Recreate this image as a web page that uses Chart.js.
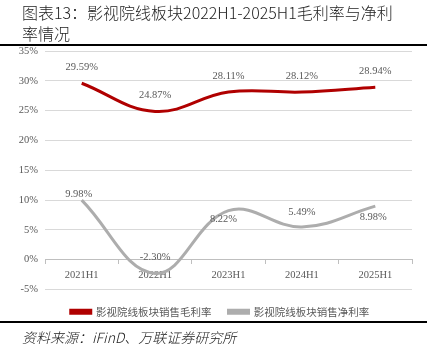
<!DOCTYPE html>
<html>
<head>
<meta charset="utf-8">
<script src="https://cdn.jsdelivr.net/npm/chart.js@4.4.1/dist/chart.umd.min.js"></script>
<style>
  html, body { margin: 0; padding: 0; background: #fff; }
  #wrap { position: relative; width: 430px; height: 351px; overflow: hidden; }
  #title { position: absolute; left: 22px; top: 2px; font: 300 16px/21px "Noto Sans CJK SC", sans-serif; color: #222; white-space: nowrap; }
  #rule1 { position: absolute; left: 0; top: 44px; width: 427px; height: 2px; background: #000; }
  #rule2 { position: absolute; left: 0; top: 321px; width: 427px; height: 2px; background: #000; }
  #source { position: absolute; left: 22px; top: 328px; font: italic 300 14px/18px "Noto Sans CJK SC", sans-serif; color: #222; white-space: nowrap; }
  canvas { position: absolute; left: 0; top: 0; }
</style>
</head>
<body>
<div id="wrap">
  <canvas id="c" width="430" height="351"></canvas>
  <div id="title">图表13：影视院线板块2022H1-2025H1毛利率与净利<br>率情况</div>
  <div id="rule1"></div>
  <div id="rule2"></div>
  <div id="source">资料来源：iFinD、万联证券研究所</div>
</div>
<script>
const categories = ["2021H1", "2022H1", "2023H1", "2024H1", "2025H1"];
const grossMargin = [29.59, 24.87, 28.11, 28.12, 28.94];
const netMargin = [9.98, -2.30, 8.22, 5.49, 8.98];
const seriesNames = ["影视院线板块销售毛利率", "影视院线板块销售净利率"];
const yTicks = { min: -5, max: 35, step: 5 };

// label offsets (style only): [dx, dy] relative to point
const labelOffsets = [
  [[0, -16], [0, -16], [0, -16], [0, -16], [0, -16]],
  [[-3, -6], [0, -16], [-5, 9], [0, -15], [-2, 11]]
];

const tickFont = { family: "Liberation Serif", size: 10.5 };
const textColor = "#595959";

const labelPlugin = {
  id: "pointLabels",
  afterDatasetsDraw(chart) {
    const ctx = chart.ctx;
    ctx.save();
    ctx.font = "10.5px 'Liberation Serif'";
    ctx.fillStyle = textColor;
    ctx.textAlign = "center";
    ctx.textBaseline = "middle";
    chart.data.datasets.forEach((ds, di) => {
      const meta = chart.getDatasetMeta(di);
      meta.data.forEach((pt, i) => {
        const off = labelOffsets[di][i];
        ctx.fillText(ds.data[i].toFixed(2) + "%", pt.x + off[0], pt.y + off[1]);
      });
    });
    ctx.restore();
  }
};

const legendShift = {
  id: "legendShift",
  afterLayout(chart) {
    if (chart.legend) { chart.legend.left += 14; chart.legend.right += 14; }
  }
};

new Chart(document.getElementById("c"), {
  type: "line",
  data: {
    labels: categories,
    datasets: [
      { label: seriesNames[0], data: grossMargin, borderColor: "#B00000", backgroundColor: "#B00000", borderWidth: 3, pointRadius: 0, tension: 0.4 },
      { label: seriesNames[1], data: netMargin, borderColor: "#ADADAD", backgroundColor: "#ADADAD", borderWidth: 3, pointRadius: 0, tension: 0.4 }
    ]
  },
  options: {
    responsive: false,
    animation: false,
    layout: { padding: { top: 51, right: 18, left: 0, bottom: 24 } },
    plugins: {
      legend: {
        position: "bottom",
        labels: { boxWidth: 20, boxHeight: 3, padding: 17, color: textColor, font: { family: "Noto Sans CJK SC", size: 10.5 } }
      },
      tooltip: { enabled: false }
    },
    scales: {
      x: {
        position: { y: 0 },
        offset: true,
        grid: { drawOnChartArea: false, drawTicks: true, tickLength: 4, offset: true, color: "#BFBFBF" },
        border: { display: true, color: "#BFBFBF" },
        ticks: { color: textColor, font: tickFont, padding: 5, maxRotation: 0 }
      },
      y: {
        min: yTicks.min, max: yTicks.max,
        grid: { color: "#D9D9D9", drawTicks: false },
        border: { display: false },
        ticks: { stepSize: yTicks.step, color: textColor, font: tickFont, padding: 7, callback: v => v + "%" },
        afterFit: s => { s.width = 45; }
      }
    }
  },
  plugins: [labelPlugin, legendShift]
});
</script>
</body>
</html>
